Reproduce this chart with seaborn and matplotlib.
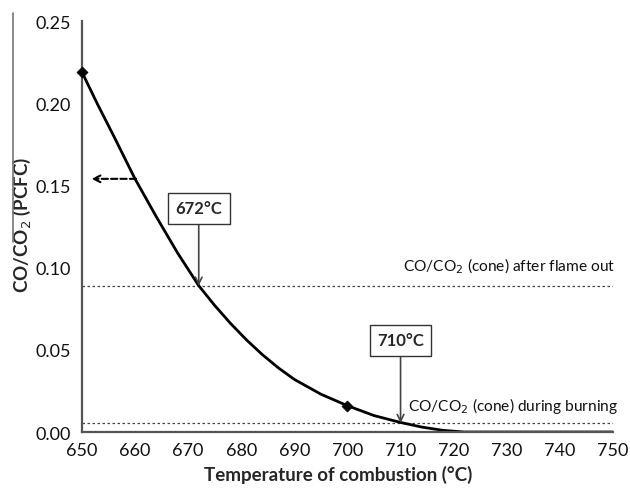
import numpy as np
import pandas as pd
import matplotlib
matplotlib.use("Agg")
import matplotlib.pyplot as plt
from matplotlib.lines import Line2D
import seaborn as sns

# Fitted CO/CO2 ratio versus combustion temperature
temperature = [650, 653, 656, 660, 664, 668, 672, 675, 678, 681, 684, 687, 690, 695,
               700, 705, 710, 714, 718, 722, 730, 740, 750]
co_ratio = [0.219, 0.199, 0.180, 0.154, 0.131, 0.109, 0.089, 0.077, 0.066, 0.056, 0.047,
            0.039, 0.032, 0.023, 0.016, 0.010, 0.0058, 0.003, 0.001, 0.0, 0.0, 0.0, 0.0]

# Measured points shown with markers
marker_temp = [650, 700]
marker_ratio = [0.219, 0.016]

# Cone calorimeter reference levels
cone_after_flameout = 0.089
cone_during_burning = 0.0055
cone_labels = ["CO/CO$_2$ (cone) after flame out", "CO/CO$_2$ (cone) during burning"]

# Crossing temperatures
crossing_temps = [672, 710]
crossing_labels = ["672°C", "710°C"]

x_ticks = [650, 660, 670, 680, 690, 700, 710, 720, 730, 740, 750]
y_ticks = [0.00, 0.05, 0.10, 0.15, 0.20, 0.25]

sns.set_theme(style="white")
plt.rcParams["font.family"] = ["Lato", "DejaVu Sans"]

fig = plt.figure(figsize=(6.30, 4.89), dpi=100)
ax = fig.add_axes([0.130, 0.1145, 0.843, 0.8405])

curve = pd.DataFrame({"T": temperature, "ratio": co_ratio})
sns.lineplot(data=curve, x="T", y="ratio", ax=ax, color="black", lw=2.0, sort=False)
sns.scatterplot(x=marker_temp, y=marker_ratio, ax=ax, marker="D", s=32,
                color="black", edgecolor="black", zorder=5, clip_on=False)

# Reference levels
for level in (cone_after_flameout, cone_during_burning):
    ax.axhline(level, color="#444444", lw=0.9, ls=(0, (2, 2)), zorder=1)
ax.text(750.5, cone_after_flameout + 0.0065, cone_labels[0], ha="right", va="bottom",
        fontsize=11.2, color="#111111")
ax.text(751.0, cone_during_burning + 0.005, cone_labels[1], ha="right", va="bottom",
        fontsize=11.2, color="#111111")

# Boxed crossing labels with arrows pointing to the curve
box_y = [0.136, 0.0557]
targets = [cone_after_flameout, cone_during_burning]
for t, lab, by, tgt in zip(crossing_temps, crossing_labels, box_y, targets):
    ax.annotate(lab, xy=(t, tgt), xytext=(t, by), ha="center", va="center",
                fontsize=12, fontweight="bold",
                bbox=dict(boxstyle="square,pad=0.45", fc="white", ec="#333333", lw=1.0),
                arrowprops=dict(arrowstyle="->", color="#444444", lw=1.2,
                                shrinkA=0, shrinkB=0))

# Dashed arrow pointing to the left axis
ax.annotate("", xy=(651.8, 0.154), xytext=(660.2, 0.154),
            arrowprops=dict(arrowstyle="->", color="black", lw=1.5, ls=(0, (3, 1.5)),
                            shrinkA=0, shrinkB=0))

ax.set_xlim(650, 750)
ax.set_ylim(0, 0.25)
ax.set_xticks(x_ticks)
ax.set_yticks(y_ticks)
ax.set_yticklabels([f"{v:.2f}" for v in y_ticks])
ax.tick_params(axis="both", length=0, labelsize=13, colors="#111111")
ax.tick_params(axis="y", pad=8)
ax.tick_params(axis="x", pad=7)

for side in ("top", "right"):
    ax.spines[side].set_visible(False)
for side in ("left", "bottom"):
    ax.spines[side].set_color("#555555")
    ax.spines[side].set_linewidth(1.6)

ax.set_xlabel("Temperature of combustion (°C)", fontsize=13.5, fontweight="bold")
ax.set_ylabel("CO/CO$_2$ (PCFC)", fontsize=13.5, fontweight="bold")
ax.xaxis.set_label_coords(0.483, -0.08)
ax.yaxis.set_label_coords(-0.113, 0.506)
ax.yaxis.label.set_va("center")

# Thin grey rule at the far left edge
fig.add_artist(Line2D([13 / 630, 13 / 630], [1 - 14 / 489, 1 - 243 / 489],
                      color="#777777", lw=1.2))

fig.savefig("out.png", dpi=100)
